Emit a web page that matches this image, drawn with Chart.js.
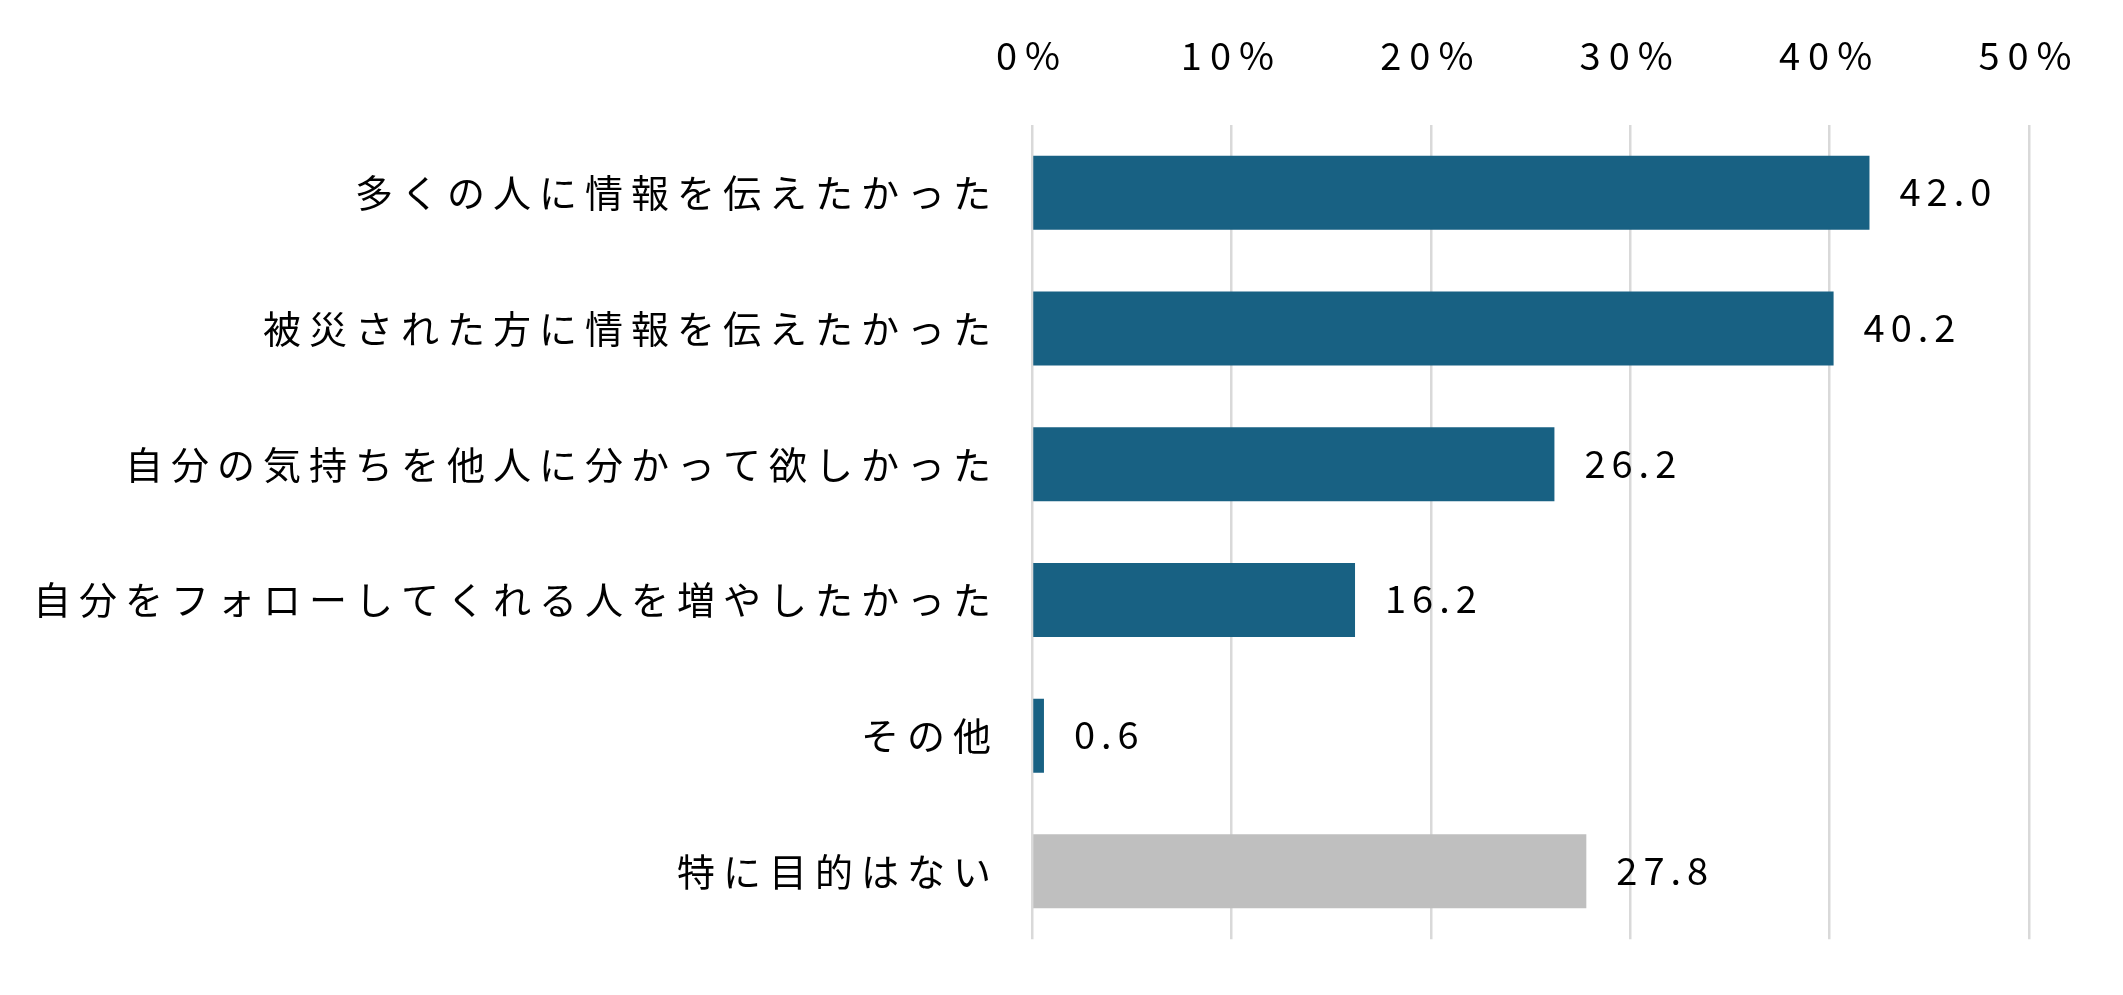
<!DOCTYPE html>
<html>
<head>
<meta charset="utf-8">
<script src="https://cdn.jsdelivr.net/npm/chart.js@4"></script>
<style>
  html, body { margin: 0; padding: 0; background: #fff; }
  #wrap { width: 2123px; height: 995px; position: relative; }
</style>
</head>
<body>
<div id="wrap"><canvas id="purposeChart"></canvas></div>
<script>
// 投稿の目的（%）
const categories = [
    '多くの人に情報を伝えたかった',
    '被災された方に情報を伝えたかった',
    '自分の気持ちを他人に分かって欲しかった',
    '自分をフォローしてくれる人を増やしたかった',
    'その他',
    '特に目的はない'
];
const values = [42.0, 40.2, 26.2, 16.2, 0.6, 27.8];
const barColors = ['#186183', '#186183', '#186183', '#186183', '#186183', '#bfbfbf'];
const tickValues = [0, 10, 20, 30, 40, 50];

const FONT = "'Noto Sans CJK JP', 'Noto Sans', sans-serif";
const SPACING = '8px';
const VALUE_SPACING = '6px';

// 文字間隔（キャンバスのリセット後にも再設定）
const spacingPlugin = {
    id: 'spacing',
    beforeUpdate(chart) { chart.ctx.letterSpacing = SPACING; },
    beforeLayout(chart) { chart.ctx.letterSpacing = SPACING; },
    beforeDraw(chart) { chart.ctx.letterSpacing = SPACING; }
};

// 棒の右に数値を表示
const valueLabels = {
    id: 'valueLabels',
    afterDatasetsDraw(chart) {
        const ctx = chart.ctx;
        const meta = chart.getDatasetMeta(0);
        ctx.save();
        ctx.letterSpacing = VALUE_SPACING;
        ctx.font = '38px ' + FONT;
        ctx.fillStyle = '#000';
        ctx.textAlign = 'left';
        ctx.textBaseline = 'middle';
        meta.data.forEach(function(bar, i) {
            ctx.fillText(values[i].toFixed(1), bar.x + 30, bar.y - 1);
        });
        ctx.restore();
    }
};

new Chart(document.getElementById('purposeChart'), {
    type: 'bar',
    data: {
        labels: categories,
        datasets: [{
            data: values,
            backgroundColor: barColors,
            borderWidth: 0,
            categoryPercentage: 1,
            barPercentage: 0.545
        }]
    },
    options: {
        indexAxis: 'y',
        responsive: true,
        maintainAspectRatio: false,
        animation: false,
        layout: {
            padding: { top: 0, right: 94, bottom: 43, left: 0 }
        },
        plugins: {
            legend: { display: false },
            tooltip: { enabled: false }
        },
        scales: {
            x: {
                position: 'top',
                min: 0,
                max: 50,
                afterBuildTicks: function(scale) {
                    scale.ticks = tickValues.map(function(v) { return { value: v }; });
                },
                afterFit: function(scale) {
                    scale.height = 125;
                    scale.paddingLeft = 0;
                    scale.paddingRight = 0;
                },
                grid: {
                    color: '#d9d9d9',
                    lineWidth: 2.5,
                    drawTicks: false
                },
                border: { display: false },
                ticks: {
                    padding: 47,
                    color: '#000',
                    font: { family: FONT, size: 38 },
                    callback: function(value) { return value + '%'; }
                }
            },
            y: {
                afterFit: function(scale) { scale.width = 1032; },
                grid: { display: false, drawTicks: false },
                border: { display: false },
                ticks: {
                    padding: 33,
                    color: '#000',
                    font: { family: FONT, size: 38 }
                }
            }
        }
    },
    plugins: [spacingPlugin, valueLabels]
});
</script>
</body>
</html>
